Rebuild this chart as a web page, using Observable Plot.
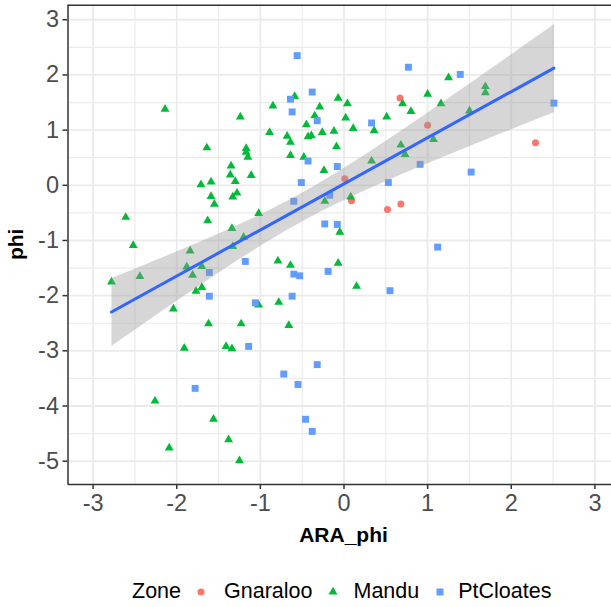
<!DOCTYPE html>
<html>
<head>
<meta charset="utf-8">
<script src="https://cdn.jsdelivr.net/npm/d3@7"></script>
<script src="https://cdn.jsdelivr.net/npm/@observablehq/plot@0.6"></script>
<style>
  html, body { margin: 0; padding: 0; background: #fff; }
  #chart svg { display: block; overflow: hidden; }
  #chart g[aria-label$="tick label"] { fill: #4D4D4D; }
  #chart g[aria-label="x-axis tick"], #chart g[aria-label="y-axis tick"] { stroke: #333333; stroke-width: 1.5; }
  #legend {
    display: flex; align-items: center; height: 47px; box-sizing: border-box;
    padding-left: 132px; padding-top: 16px;
    font-family: "Liberation Sans", Arial, sans-serif; font-size: 21.5px; color: #000;
  }
  #legend svg { display: block; }
</style>
</head>
<body>
<div id="chart"></div>
<div id="legend"></div>
<script>
// Zone membership and colours (ggplot default hue palette)
const zones = ["Gnaraloo", "Mandu", "PtCloates"];
const zoneColors = ["#F8766D", "#00BA38", "#619CFF"];

// [ARA_phi, phi] per site, grouped by zone
const gnaraloo = [
  [0.67, 1.58], [1.00, 1.09], [0.01, 0.12], [0.09, -0.28],
  [0.52, -0.44], [0.68, -0.34], [2.29, 0.77]
];

const mandu = [
  [-0.59, 1.61], [-0.07, 1.58], [-0.85, 1.44], [-0.29, 1.42], [-0.35, 1.26],
  [-1.24, 1.24], [-0.45, 1.10], [-0.89, 0.96], [-0.68, 0.89], [-0.43, 0.88],
  [-0.39, 0.90], [-0.26, 0.96], [-0.12, 0.98], [-0.64, 0.78], [-1.64, 0.68],
  [-1.17, 0.67], [-1.17, 0.60], [-1.15, 0.51], [-0.09, 0.70], [-0.64, 0.54],
  [-0.48, 0.51], [-0.24, 0.27], [-1.35, 0.35], [-1.36, 0.19], [-1.30, 0.07],
  [-1.11, 0.18], [-1.71, 0.01], [-1.59, 0.06], [1.25, 1.95], [1.69, 1.79],
  [1.69, 1.68], [0.70, 1.48], [1.00, 1.65], [1.16, 1.48], [0.80, 1.34],
  [0.04, 1.48], [0.02, 1.22], [0.11, 1.03], [0.51, 1.24], [0.36, 0.99],
  [1.50, 1.35], [1.07, 0.83], [0.68, 0.73], [0.73, 0.56], [0.33, 0.44],
  [0.08, -0.21], [-0.05, -0.85], [-0.23, -0.29], [-1.02, -0.51], [-0.79, -1.37],
  [-0.64, -1.45], [-0.07, -1.41], [0.15, -1.83], [-1.02, -2.17], [-0.78, -2.12],
  [-0.66, -2.54], [-1.59, -0.20], [-1.55, -0.34], [-1.28, -0.14], [-1.33, -0.21],
  [-2.61, -0.58], [-1.63, -0.64], [-2.52, -1.09], [-1.34, -0.78], [-1.20, -0.94],
  [-1.33, -1.11], [-1.84, -1.19], [-1.88, -1.48], [-1.70, -1.47], [-1.81, -1.63],
  [-2.44, -1.65], [-2.78, -1.75], [-1.70, -1.85], [-1.77, -1.92], [-2.04, -2.24],
  [-1.62, -2.51], [-1.23, -2.51], [-1.91, -2.95], [-1.41, -2.92], [-1.34, -2.96],
  [-2.26, -3.91], [-1.56, -4.24], [-1.38, -4.61], [-2.09, -4.76], [-1.25, -4.99],
  [-2.14, 1.38]
];

const ptCloates = [
  [-0.56, 2.35], [-0.64, 1.56], [-0.38, 1.69], [-0.62, 1.33], [-0.32, 1.17],
  [-0.43, 0.44], [-0.08, 0.34], [-0.51, 0.05], [0.77, 2.14], [1.39, 2.01],
  [0.33, 1.13], [0.91, 0.38], [1.52, 0.24], [0.53, 0.05], [2.51, 1.49],
  [-0.60, -0.29], [-0.17, -0.18], [-0.23, -0.70], [-0.08, -0.71], [1.12, -1.12],
  [-0.19, -1.56], [-0.60, -1.61], [-0.53, -1.64], [0.55, -1.91], [-0.62, -2.01],
  [-1.06, -2.13], [-1.18, -1.38], [-1.61, -1.58], [-1.61, -2.01], [-1.14, -2.92],
  [-0.32, -3.25], [-0.72, -3.42], [-0.55, -3.61], [-1.78, -3.68], [-0.46, -4.24],
  [-0.38, -4.46]
];

// Axis ticks and minor grid positions
const xTicks = [-3, -2, -1, 0, 1, 2, 3];
const yTicks = [-5, -4, -3, -2, -1, 0, 1, 2, 3];
const xMinor = [-2.5, -1.5, -0.5, 0.5, 1.5, 2.5];
const yMinor = [-4.5, -3.5, -2.5, -1.5, -0.5, 0.5, 1.5, 2.5];

// Scale extents (limits incl. ggplot's 5% expansion)
const xDomain = [-3.3, 3.3];
const yDomain = [-5.4225, 3.264];

const symbolOf = {Gnaraloo: "circle", Mandu: "triangle", PtCloates: "square"};
const radiusOf = {Gnaraloo: 3.5, Mandu: 3.3, PtCloates: 3.9};

const rows = [
  ...gnaraloo.map(([x, y]) => ({Zone: "Gnaraloo", ARA_phi: x, phi: y})),
  ...mandu.map(([x, y]) => ({Zone: "Mandu", ARA_phi: x, phi: y})),
  ...ptCloates.map(([x, y]) => ({Zone: "PtCloates", ARA_phi: x, phi: y}))
];

const W = 611, H = 560;
const panelBottom = 484, panelTop = 4.7, panelLeft = 67.5, panelRight = 619.5;
const font = "'Liberation Sans', Arial, sans-serif";

const dotMarks = zones.map((z, i) =>
  Plot.dot(rows.filter(d => d.Zone === z), {
    x: "ARA_phi", y: "phi",
    symbol: () => symbolOf[z],
    r: radiusOf[z],
    fill: zoneColors[i],
    stroke: "none"
  })
);

const chart = Plot.plot({
  width: W,
  height: H,
  marginLeft: panelLeft,
  marginRight: 0,
  marginTop: panelTop,
  marginBottom: H - panelBottom,
  style: {fontFamily: font, fontSize: "23.5px", color: "#333333", background: "#fff"},
  symbol: {type: "identity"},
  x: {domain: xDomain, range: [panelLeft, panelRight], ticks: xTicks, tickSize: 5, tickPadding: 5, label: null, tickFormat: d => String(d)},
  y: {domain: yDomain, range: [panelBottom, panelTop], ticks: yTicks, tickSize: 5, tickPadding: 4, label: null, tickFormat: d => String(d)},
  marks: [
    Plot.ruleX(xMinor, {stroke: "#EBEBEB", strokeWidth: 1.2}),
    Plot.ruleY(yMinor, {stroke: "#EBEBEB", strokeWidth: 1.2}),
    Plot.ruleX(xTicks, {stroke: "#EBEBEB", strokeWidth: 1.8}),
    Plot.ruleY(yTicks, {stroke: "#EBEBEB", strokeWidth: 1.8}),
    ...dotMarks,
    Plot.linearRegressionY(rows, {
      x: "ARA_phi", y: "phi", ci: 0.95,
      stroke: "#3366FF", strokeWidth: 3,
      fill: "#999999", fillOpacity: 0.4
    }),
    Plot.ruleX([xDomain[0]], {stroke: "#333333", strokeWidth: 1.5}),
    Plot.ruleY([yDomain[0], yDomain[1]], {stroke: "#333333", strokeWidth: 1.5})
  ]
});

// Axis titles, centred on the panel
const svg = d3.select(chart.tagName.toLowerCase() === "svg" ? chart : chart.querySelector("svg"));
const sx = chart.scale("x"), sy = chart.scale("y");
const cx = (sx.apply(xDomain[0]) + sx.apply(xDomain[1])) / 2;
const cy = (sy.apply(yDomain[0]) + sy.apply(yDomain[1])) / 2;
svg.append("text")
  .attr("x", cx).attr("y", 535).attr("dy", "0.35em")
  .attr("text-anchor", "middle")
  .attr("font-family", font).attr("font-size", 21).attr("font-weight", "bold")
  .attr("fill", "#000").text("ARA_phi");
svg.append("text")
  .attr("transform", `translate(16,${cy}) rotate(-90)`)
  .attr("dy", "0.35em")
  .attr("text-anchor", "middle")
  .attr("font-family", font).attr("font-size", 21).attr("font-weight", "bold")
  .attr("fill", "#000").text("phi");

document.getElementById("chart").appendChild(chart);

// Legend below the chart
const legend = d3.select("#legend");
const keyGapBefore = [12, 13, 13];
const labelGapBefore = [15, 12, 10];
legend.append("span").text("Zone");
zones.forEach((z, i) => {
  const key = legend.append("svg").attr("width", 16).attr("height", 16)
    .style("margin-left", keyGapBefore[i] + "px");
  const path = d3.symbol(
    {circle: d3.symbolCircle, triangle: d3.symbolTriangle, square: d3.symbolSquare}[symbolOf[z]],
    Math.PI * radiusOf[z] * radiusOf[z]
  )();
  key.append("path").attr("d", path).attr("transform", "translate(8,8)").attr("fill", zoneColors[i]);
  legend.append("span").text(z).style("margin-left", labelGapBefore[i] + "px");
});
</script>
</body>
</html>
